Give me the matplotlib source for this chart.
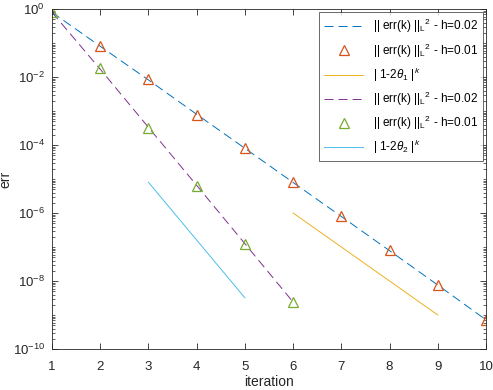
import matplotlib
matplotlib.use('Agg')
import matplotlib.pyplot as plt
from matplotlib.ticker import FixedLocator, NullFormatter

plt.rcParams['font.family'] = 'Liberation Sans'
plt.rcParams['mathtext.fontset'] = 'custom'
plt.rcParams['mathtext.rm'] = 'Liberation Sans'
plt.rcParams['mathtext.it'] = 'Liberation Sans:italic'
plt.rcParams['lines.scale_dashes'] = False
plt.rcParams['font.size'] = 9

# data
it_a = [1, 2, 3, 4, 5, 6, 7, 8, 9, 10]
err_a02 = [0.8, 0.08, 8.2e-3, 8.0e-4, 8.0e-5, 7.9e-6, 7.9e-7, 7.8e-8, 7.6e-9, 7.2e-10]
err_a01 = [0.8, 0.082, 8.5e-3, 7.8e-4, 8.1e-5, 7.9e-6, 8.0e-7, 7.9e-8, 7.4e-9, 7.0e-10]
it_t1 = [6, 7, 8, 9]
theta1 = [1e-6, 1e-7, 1e-8, 1e-9]

it_b = [1, 2, 3, 4, 5, 6]
err_b02 = [0.8, 0.017, 3.3e-4, 6.5e-6, 1.25e-7, 2.4e-9]
err_b01 = [0.8, 0.018, 3.2e-4, 6.4e-6, 1.26e-7, 2.4e-9]
it_t2 = [3, 4, 5]
theta2 = [8e-6, 1.6e-7, 3.2e-9]

c_blue = '#0072BD'
c_orange = '#D95319'
c_yellow = '#EDB120'
c_purple = '#7E2F8E'
c_green = '#77AC30'
c_lblue = '#4DBEEE'
dash = (0, (6.5, 3.6))

fig = plt.figure(figsize=(4.93, 3.9), dpi=100)
ax = fig.add_axes([52/493, 41/390, 434/493, 340/390])

lbl02 = r'|| err(k) ||$_{\mathregular{L}}$$^{\mathregular{2}}$ - h=0.02'
lbl01 = r'|| err(k) ||$_{\mathregular{L}}$$^{\mathregular{2}}$ - h=0.01'

ax.semilogy(it_a, err_a02, color=c_blue, lw=0.7, linestyle=dash, label=lbl02)
ax.semilogy(it_a[1:], err_a01[1:], '^', color=c_orange, mfc='none', ms=6.5, mew=0.9, label=lbl01)
ax.semilogy(it_t1, theta1, color=c_yellow, lw=0.7, label=r'| 1-2$\it{\theta}_1$ |$^k$')
ax.semilogy(it_b, err_b02, color=c_purple, lw=0.7, linestyle=dash, label=lbl02)
ax.semilogy(it_b, err_b01, '^', color=c_green, mfc='none', ms=6.5, mew=0.9, label=lbl01)
ax.semilogy(it_t2, theta2, color=c_lblue, lw=0.7, label=r'| 1-2$\it{\theta}_2$ |$^k$')

ax.set_xlim(1, 10)
ax.set_ylim(1e-10, 1)
ax.set_xticks(range(1, 11))
ax.yaxis.set_major_locator(FixedLocator([10.0**k for k in range(-10, 1, 2)]))
minors = [m * 10.0**k for k in range(-10, 0) for m in range(1, 10) if not (m == 1 and k % 2 == 0)]
ax.yaxis.set_minor_locator(FixedLocator(minors))
ax.yaxis.set_minor_formatter(NullFormatter())
ax.tick_params(which='both', direction='in', top=True, right=True, colors='#262626', labelsize=9.5)
ax.tick_params(which='major', length=4, width=0.6)
ax.tick_params(which='minor', length=2, width=0.5)
ax.tick_params(axis='x', which='major', pad=9)
ax.tick_params(axis='y', which='major', pad=5)
ax.tick_params(axis='x', which='minor', bottom=False, top=False)
for s in ax.spines.values():
    s.set_linewidth(0.6)
    s.set_color('#262626')

ax.set_xlabel('iteration', fontsize=10, color='#262626', labelpad=1)
ax.set_ylabel('err', fontsize=10, color='#262626', labelpad=0)

leg = ax.legend(loc='upper right', fontsize=8.5, frameon=True, fancybox=False,
                edgecolor='#262626', handlelength=3.3, borderaxespad=0.25,
                labelspacing=0.5, handletextpad=0.8, borderpad=0.45)
leg.get_frame().set_linewidth(0.6)

fig.savefig('out.png', dpi=100)
